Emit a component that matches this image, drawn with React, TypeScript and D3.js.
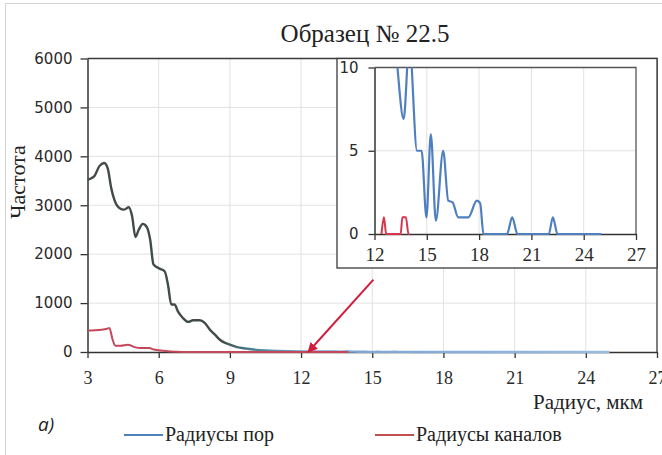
import React, { useRef, useEffect } from "react";
import * as d3 from "d3";

// Радиусы пор (blue series)
const poreRadius = [
  3, 3.28, 3.5, 3.7, 3.85, 4.0, 4.13, 4.34, 4.55, 4.74, 4.88, 5.02, 5.16, 5.33, 5.5,
  5.64, 5.78, 5.97, 6.25, 6.39, 6.53, 6.67, 6.81, 7.02, 7.24, 7.45, 7.73, 7.94, 8.16,
  8.37, 8.58, 8.8, 9.0, 9.3, 9.7, 10, 10.5, 11, 11.5, 12, 12.4, 12.8, 13.1, 13.67, 14.0,
  14.44, 14.7, 14.98, 15.23, 15.52, 15.94, 16.23, 16.48, 16.8, 17.38, 17.87, 18.06,
  18.25, 19.6, 19.9, 20.2, 22.0, 22.23, 22.5, 25,
];
const poreFreq = [
  3520, 3590, 3800, 3865, 3760, 3350, 3115, 2945, 2910, 2960, 2775, 2350, 2500, 2620,
  2555, 2300, 1790, 1720, 1650, 1380, 970, 970, 830, 695, 615, 650, 650, 595, 455, 355,
  250, 185, 150, 100, 70, 50, 30, 20, 15, 12, 10.5, 10.2, 11.5, 6.9, 11.5, 5, 5, 1, 6,
  0.8, 5, 2, 1.9, 1, 1, 2, 1.85, 0, 0, 1, 0, 0, 1, 0, 0,
];

// Радиусы каналов (red series)
const channelRadius = [
  3, 3.3, 3.78, 3.92, 4.06, 4.17, 4.4, 4.7, 4.98, 5.26, 5.6, 5.8, 6.2, 6.5, 7.0, 12.4,
  12.54, 12.67, 13.5, 13.6, 13.8, 13.95, 14.0,
];
const channelFreq = [
  440, 445, 470, 490, 250, 130, 130, 150, 100, 80, 80, 50, 25, 10, 0, 0, 1, 0, 0, 1, 1, 0, 0,
];

const xTicks = [3, 6, 9, 12, 15, 18, 21, 24, 27];
const yTicks = [0, 1000, 2000, 3000, 4000, 5000, 6000];
const insetXTicks = [12, 15, 18, 21, 24, 27];
const insetYTicks = [0, 5, 10];

const title = "Образец № 22.5";
const yTitle = "Частота";
const xTitle = "Радиус, мкм";
const legendLabels = ["Радиусы пор", "Радиусы каналов"];

const SERIF = "Liberation Serif, serif";
const SANS = "DejaVu Sans, sans-serif";

const App = () => {
  const svgRef = useRef<SVGSVGElement>(null);

  useEffect(() => {
    const svg = d3.select(svgRef.current);
    svg.selectAll("*").remove();

    const pores = poreRadius.map((r, i) => ({ r, f: poreFreq[i] }));
    const channels = channelRadius.map((r, i) => ({ r, f: channelFreq[i] }));

    // main chart scales
    const x = d3.scaleLinear().domain([3, 27]).range([87.5, 657]);
    const y = d3.scaleLinear().domain([0, 6000]).range([352, 58.5]);

    // inset scales
    const xi = d3.scaleLinear().domain([12, 27]).range([374.5, 636]);
    const yi = d3.scaleLinear().domain([0, 10]).range([234, 67.5]);

    // outer frame of picture
    svg
      .append("rect")
      .attr("x", 5.5)
      .attr("y", 3.5)
      .attr("width", 700)
      .attr("height", 500)
      .attr("fill", "white")
      .attr("stroke", "#d4d4d4");

    const defs = svg.append("defs");
    const grad = defs
      .append("linearGradient")
      .attr("id", "poreGrad")
      .attr("gradientUnits", "userSpaceOnUse")
      .attr("x1", x(3))
      .attr("x2", x(27))
      .attr("y1", 0)
      .attr("y2", 0);
    const stops: [number, string][] = [
      [8.6, "#424a4a"],
      [10, "#4a8594"],
      [12.5, "#7aa3d2"],
      [27, "#9dbfe3"],
    ];
    stops.forEach(([v, c]) => {
      grad
        .append("stop")
        .attr("offset", (v - 3) / 24)
        .attr("stop-color", c);
    });

    defs
      .append("marker")
      .attr("id", "arrowHead")
      .attr("viewBox", "0 0 10 10")
      .attr("refX", 9)
      .attr("refY", 5)
      .attr("markerWidth", 5)
      .attr("markerHeight", 5)
      .attr("markerUnits", "strokeWidth")
      .attr("orient", "auto")
      .append("path")
      .attr("d", "M0,0L10,5L0,10z")
      .attr("fill", "#d21d3c");

    defs
      .append("clipPath")
      .attr("id", "insetClip")
      .append("rect")
      .attr("x", xi(12))
      .attr("y", yi(10))
      .attr("width", xi(27) - xi(12))
      .attr("height", yi(0) - yi(10) + 2);

    // main gridlines
    svg
      .append("g")
      .selectAll("line")
      .data(xTicks.slice(1, -1))
      .join("line")
      .attr("x1", (d) => x(d))
      .attr("x2", (d) => x(d))
      .attr("y1", y(6000))
      .attr("y2", y(0))
      .attr("stroke", "#e2e2e2");
    svg
      .append("g")
      .selectAll("line")
      .data(yTicks.slice(1, -1))
      .join("line")
      .attr("x1", x(3))
      .attr("x2", x(27))
      .attr("y1", (d) => y(d))
      .attr("y2", (d) => y(d))
      .attr("stroke", "#e2e2e2");

    const mainLine = d3
      .line<{ r: number; f: number }>()
      .x((d) => x(d.r))
      .y((d) => y(d.f))
      .curve(d3.curveMonotoneX);

    // main frame (top / right)
    svg
      .append("path")
      .attr("d", `M${x(3)},${y(6000)}H${x(27)}V${y(0)}`)
      .attr("fill", "none")
      .attr("stroke", "#3a3a3a")
      .attr("stroke-width", 1.3);

    // main axes
    const xAxis = svg
      .append("g")
      .attr("transform", `translate(0, ${y(0)})`)
      .call(d3.axisBottom(x).tickValues(xTicks).tickSize(6).tickPadding(13).tickSizeOuter(0));
    xAxis.select(".domain").attr("stroke", "#333").attr("stroke-width", 1.5);
    xAxis.selectAll(".tick line").attr("stroke", "#333").attr("stroke-width", 1.3);
    xAxis
      .selectAll("text")
      .style("font-family", SERIF)
      .style("font-size", "18px")
      .attr("fill", "#2a2a2a");

    const yAxis = svg
      .append("g")
      .attr("transform", `translate(${x(3)}, 0)`)
      .call(
        d3
          .axisLeft(y)
          .tickValues(yTicks)
          .tickFormat(d3.format("d"))
          .tickSize(7)
          .tickPadding(8)
          .tickSizeOuter(0)
      );
    yAxis.select(".domain").attr("stroke", "#333").attr("stroke-width", 1.5);
    yAxis.selectAll(".tick line").attr("stroke", "#333").attr("stroke-width", 1.3);
    yAxis
      .selectAll("text")
      .style("font-family", SANS)
      .style("font-size", "15px")
      .attr("fill", "#2a2a2a");

    // main series
    svg
      .append("path")
      .datum(pores)
      .attr("fill", "none")
      .attr("stroke", "url(#poreGrad)")
      .attr("stroke-width", 2.4)
      .attr("d", mainLine);
    svg
      .append("path")
      .datum(channels)
      .attr("fill", "none")
      .attr("stroke", "#c4485a")
      .attr("stroke-width", 2)
      .attr("d", mainLine);

    // arrow pointing to zoomed region
    svg
      .append("line")
      .attr("x1", x(15.05))
      .attr("y1", y(1480))
      .attr("x2", x(12.3))
      .attr("y2", y(0))
      .attr("stroke", "#d21d3c")
      .attr("stroke-width", 2)
      .attr("marker-end", "url(#arrowHead)");

    // inset box
    svg
      .append("rect")
      .attr("x", 337)
      .attr("y", y(6000))
      .attr("width", x(27) - 337)
      .attr("height", 268 - y(6000))
      .attr("fill", "white")
      .attr("stroke", "#3a3a3a")
      .attr("stroke-width", 1.3);

    // inset grid
    svg
      .append("g")
      .selectAll("line")
      .data(insetXTicks.slice(1, -1))
      .join("line")
      .attr("x1", (d) => xi(d))
      .attr("x2", (d) => xi(d))
      .attr("y1", yi(10))
      .attr("y2", yi(0))
      .attr("stroke", "#e2e2e2");
    svg
      .append("line")
      .attr("x1", xi(12))
      .attr("x2", xi(27))
      .attr("y1", yi(5))
      .attr("y2", yi(5))
      .attr("stroke", "#e2e2e2");

    // inset frame top / right
    svg
      .append("path")
      .attr("d", `M${xi(12)},${yi(10)}H${xi(27)}V${yi(0)}`)
      .attr("fill", "none")
      .attr("stroke", "#555")
      .attr("stroke-width", 1.3);

    const ixAxis = svg
      .append("g")
      .attr("transform", `translate(0, ${yi(0)})`)
      .call(d3.axisBottom(xi).tickValues(insetXTicks).tickSize(6).tickPadding(8).tickSizeOuter(0));
    ixAxis.select(".domain").attr("stroke", "#333").attr("stroke-width", 1.5);
    ixAxis.selectAll(".tick line").attr("stroke", "#333").attr("stroke-width", 1.3);
    ixAxis
      .selectAll("text")
      .style("font-family", SERIF)
      .style("font-size", "19px")
      .attr("fill", "#2a2a2a");

    const iyAxis = svg
      .append("g")
      .attr("transform", `translate(${xi(12)}, 0)`)
      .call(d3.axisLeft(yi).tickValues(insetYTicks).tickSize(6).tickPadding(10).tickSizeOuter(0));
    iyAxis.select(".domain").attr("stroke", "#333").attr("stroke-width", 1.5);
    iyAxis.selectAll(".tick line").attr("stroke", "#333").attr("stroke-width", 1.3);
    iyAxis
      .selectAll("text")
      .style("font-family", SANS)
      .style("font-size", "15px")
      .attr("fill", "#2a2a2a");

    const insetLine = d3
      .line<{ r: number; f: number }>()
      .x((d) => xi(d.r))
      .y((d) => yi(d.f))
      .curve(d3.curveMonotoneX);

    const inset = svg.append("g").attr("clip-path", "url(#insetClip)");
    inset
      .append("path")
      .datum(pores.filter((d) => d.r >= 11))
      .attr("fill", "none")
      .attr("stroke", "#4f7fbf")
      .attr("stroke-width", 2.2)
      .attr("d", insetLine);
    inset
      .append("path")
      .datum(channels.filter((d) => d.r >= 11))
      .attr("fill", "none")
      .attr("stroke", "#d8344c")
      .attr("stroke-width", 2)
      .attr("d", insetLine);

    const addText = (
      tx: string,
      xPos: number,
      yPos: number,
      size: number,
      anchor = "start",
      family = SERIF
    ) =>
      svg
        .append("text")
        .attr("x", xPos)
        .attr("y", yPos)
        .attr("text-anchor", anchor)
        .style("font-family", family)
        .style("font-size", size + "px")
        .attr("fill", "#222")
        .text(tx);

    // titles
    addText(title, 365, 42, 25, "middle");
    addText(xTitle, 643, 409, 21, "end");
    addText("а)", 38, 431, 19, "start", "Open Sans, sans-serif").style("font-style", "italic");

    svg
      .append("text")
      .attr("transform", "translate(25, 182) rotate(-90)")
      .attr("text-anchor", "middle")
      .style("font-family", SERIF)
      .style("font-size", "22px")
      .attr("fill", "#222")
      .text(yTitle);

    // legend
    const legendColors = ["#4f81bd", "#c0504d"];
    const legendX = [124, 375];
    legendLabels.forEach((label, i) => {
      svg
        .append("line")
        .attr("x1", legendX[i])
        .attr("x2", legendX[i] + 39)
        .attr("y1", 435)
        .attr("y2", 435)
        .attr("stroke", legendColors[i])
        .attr("stroke-width", 2);
      addText(label, legendX[i] + 41, 441, 20);
    });
  }, []);

  return (
    <svg
      ref={svgRef}
      width={662}
      height={455}
      style={{ position: "absolute", left: 0, top: 0, background: "white" }}
    ></svg>
  );
};

export default App;
